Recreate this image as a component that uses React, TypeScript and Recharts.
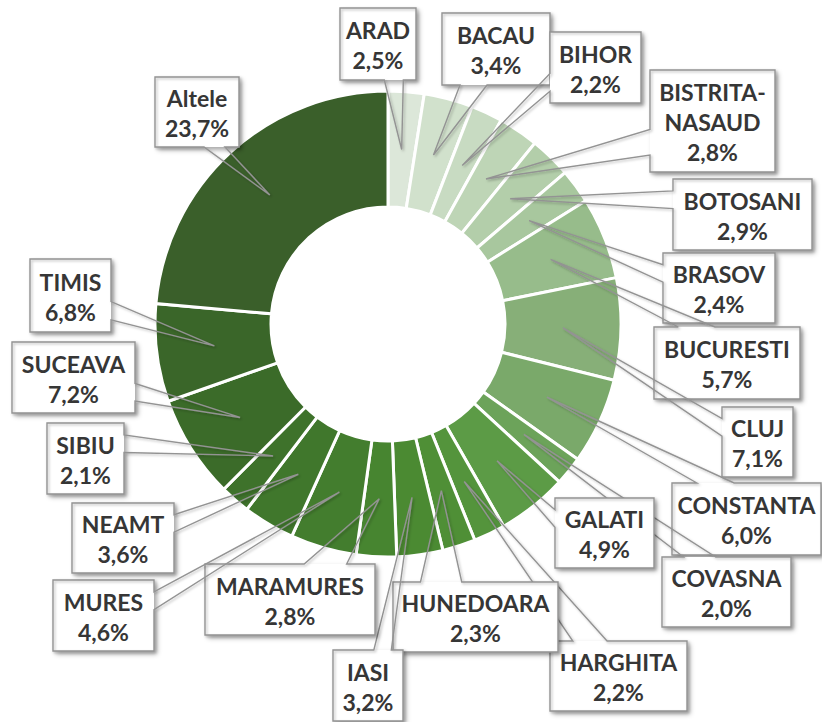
import { Cell, Pie, PieChart } from "recharts";

const REGIONS = [
    "ARAD", "BACAU", "BIHOR", "BISTRITA-NASAUD", "BOTOSANI", "BRASOV", "BUCURESTI",
    "CLUJ", "CONSTANTA", "COVASNA", "GALATI", "HARGHITA", "HUNEDOARA", "IASI",
    "MARAMURES", "MURES", "NEAMT", "SIBIU", "SUCEAVA", "TIMIS", "Altele",
];

const SHARES = [
    2.5, 3.4, 2.2, 2.8, 2.9, 2.4, 5.7,
    7.1, 6.0, 2.0, 4.9, 2.2, 2.3, 3.2,
    2.8, 4.6, 3.6, 2.1, 7.2, 6.8, 23.7,
];

const SLICE_COLORS = [
    "#dce7d9", "#d1e1cc", "#c8dbc2", "#bed5b6", "#b3ceaa", "#a8c79e", "#97bc8b",
    "#87af78", "#7aa96a", "#6ca35a", "#5c9b46", "#54943c", "#4f8f36", "#4b8a32",
    "#478530", "#437d2e", "#40772c", "#3e722b", "#3b6b29", "#3a6629", "#3a5f2a",
];

// callout boxes: left, top, right, bottom (page px)
const LABEL_BOXES: [number, number, number, number][] = [
    [340, 8, 416, 80],
    [442, 13, 550, 85],
    [550, 32, 641, 103],
    [650, 70, 775, 172],
    [673, 179, 812, 250],
    [663, 253, 775, 323],
    [654, 327, 800, 399],
    [722, 407, 793, 477],
    [672, 483, 821, 555],
    [662, 557, 791, 627],
    [555, 498, 654, 568],
    [550, 641, 687, 711],
    [393, 582, 558, 652],
    [333, 650, 403, 721],
    [205, 564, 375, 635],
    [53, 580, 154, 651],
    [72, 503, 174, 573],
    [47, 423, 124, 494],
    [12, 342, 135, 413],
    [30, 259, 111, 332],
    [155, 77, 239, 147],
];

const data = REGIONS.map((name, i) => ({ name, value: SHARES[i] }));

const RAD = Math.PI / 180;

function renderCallout(props: any) {
    const { cx, cy, midAngle, innerRadius, outerRadius, index, name, value } = props;
    const r = (innerRadius + outerRadius) / 2;
    const tx = cx + r * Math.cos(-midAngle * RAD);
    const ty = cy + r * Math.sin(-midAngle * RAD);

    const [x1, y1, x2, y2] = LABEL_BOXES[index];
    const w = x2 - x1;
    const h = y2 - y1;
    const hc = x1 + w / 2;
    const vc = y1 + h / 2;
    const dx = tx - hc;
    const dy = ty - vc;
    const dz = Math.abs(dy) - Math.abs((dx * h) / w);

    // wedge callout outline, clockwise from top-left
    const pts: [number, number][] = [[x1, y1]];
    if (dz > 0 && dy < 0) {
        const a = x1 + (w * (dx > 0 ? 7 : 2)) / 12;
        const b = x1 + (w * (dx > 0 ? 10 : 5)) / 12;
        pts.push([a, y1], [tx, ty], [b, y1]);
    }
    pts.push([x2, y1]);
    if (dz <= 0 && dx > 0) {
        const a = y1 + (h * (dy > 0 ? 7 : 2)) / 12;
        const b = y1 + (h * (dy > 0 ? 10 : 5)) / 12;
        pts.push([x2, a], [tx, ty], [x2, b]);
    }
    pts.push([x2, y2]);
    if (dz > 0 && dy > 0) {
        const a = x1 + (w * (dx > 0 ? 7 : 2)) / 12;
        const b = x1 + (w * (dx > 0 ? 10 : 5)) / 12;
        pts.push([b, y2], [tx, ty], [a, y2]);
    }
    pts.push([x1, y2]);
    if (dz <= 0 && dx < 0) {
        const a = y1 + (h * (dy > 0 ? 7 : 2)) / 12;
        const b = y1 + (h * (dy > 0 ? 10 : 5)) / 12;
        pts.push([x1, b], [tx, ty], [x1, a]);
    }
    const d = "M" + pts.map((p) => p.join(",")).join("L") + "Z";

    const lines = name.includes("-")
        ? [name.split("-")[0] + "-", name.split("-")[1]]
        : [name];
    lines.push(value.toFixed(1).replace(".", ",") + "%");
    const n = lines.length;

    return (
        <g key={`callout-${index}`}>
            {index === 0 && (
                <defs>
                    <filter id="boxShadow" x="-20%" y="-20%" width="150%" height="150%">
                        <feDropShadow dx="3" dy="3" stdDeviation="2.5" floodColor="#000" floodOpacity="0.35" />
                    </filter>
                    <filter id="lineShadow" x="-20%" y="-20%" width="150%" height="150%">
                        <feDropShadow dx="1.5" dy="1.5" stdDeviation="1" floodColor="#000" floodOpacity="0.25" />
                    </filter>
                </defs>
            )}
            <rect x={x1} y={y1} width={w} height={h} fill="#fff" filter="url(#boxShadow)" />
            <path d={d} fill="none" stroke="#939393" strokeWidth={1.4} filter="url(#lineShadow)" />
            <text
                x={hc}
                textAnchor="middle"
                fontFamily="Lato"
                fontWeight={700}
                fontSize={23}
                fill="#363636"
            >
                {lines.map((t, i) => (
                    <tspan key={i} x={hc} y={vc + (i - (n - 1) / 2) * 30 + 10}>
                        {t}
                    </tspan>
                ))}
            </text>
        </g>
    );
}

export default function App() {
    return (
        <div style={{ position: "absolute", left: 0, top: 0, width: 822, height: 722, background: "#fff" }}>
            <PieChart width={822} height={722} margin={{ top: 0, right: 0, bottom: 0, left: 0 }}>
                <Pie
                    data={data}
                    dataKey="value"
                    nameKey="name"
                    cx={388}
                    cy={324}
                    innerRadius={117}
                    outerRadius={233}
                    startAngle={90}
                    endAngle={-270}
                    stroke="#fff"
                    strokeWidth={3}
                    isAnimationActive={false}
                    label={renderCallout}
                    labelLine={false}
                >
                    {data.map((item, index) => (
                        <Cell key={`cell-${index}`} fill={SLICE_COLORS[index]} />
                    ))}
                </Pie>
            </PieChart>
        </div>
    );
}
